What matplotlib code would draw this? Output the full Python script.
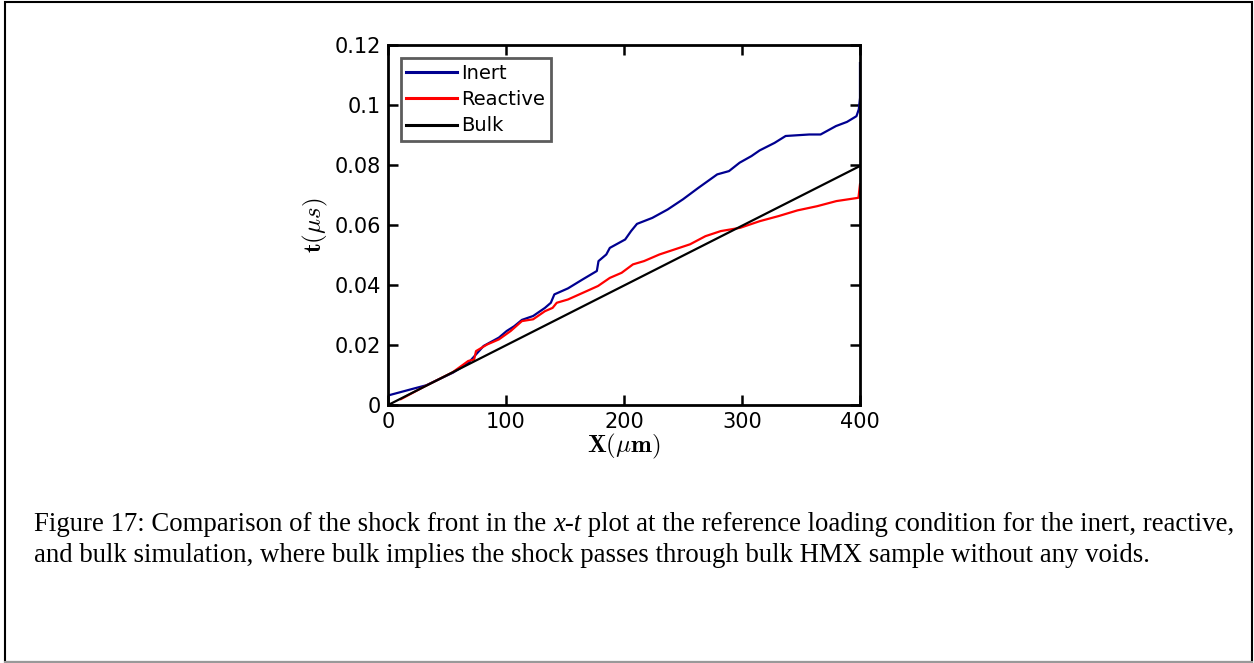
import matplotlib
matplotlib.use('Agg')
import matplotlib.pyplot as plt
from matplotlib.patches import Rectangle
from matplotlib.lines import Line2D

# shock front position (um) vs time (us)
x_inert = [0, 22.7, 32.4, 55, 68, 81, 94, 100.6, 107, 113.5, 123, 133, 138, 141,
           152.5, 165, 177, 178.4, 185, 188, 201, 206, 211, 224, 237, 250, 263,
           279, 289, 298, 308, 315, 327.6, 337, 357, 366.6, 379.6, 389, 397,
           399, 400, 400]
t_inert = [0.0032, 0.0056, 0.0066, 0.0108, 0.0140, 0.0197, 0.0225, 0.0247, 0.0263,
           0.0284, 0.0297, 0.0324, 0.0341, 0.0369, 0.0389, 0.0419, 0.0447, 0.0480,
           0.0502, 0.0524, 0.0552, 0.0580, 0.0604, 0.0624, 0.0652, 0.0686, 0.0724,
           0.0769, 0.0780, 0.0808, 0.0830, 0.0849, 0.0874, 0.0897, 0.0902, 0.0902,
           0.0930, 0.0944, 0.0963, 0.0986, 0.1024, 0.1140]

x_react = [11, 30, 55, 68, 73, 74.6, 84, 94, 104, 113.5, 123, 133, 139.5, 143,
           152.5, 165, 178, 188, 198, 207.6, 217, 230, 243, 256, 269, 282, 298.5,
           315, 331, 347, 363.7, 380, 398.7, 399.5, 400]
t_react = [0.0020, 0.0060, 0.0110, 0.0147, 0.0152, 0.0180, 0.0202, 0.0219, 0.0247,
           0.0280, 0.0286, 0.0313, 0.0324, 0.0341, 0.0352, 0.0374, 0.0397, 0.0424,
           0.0441, 0.0469, 0.0480, 0.0502, 0.0519, 0.0536, 0.0563, 0.0580, 0.0591,
           0.0613, 0.0630, 0.0649, 0.0663, 0.0680, 0.0691, 0.0719, 0.0736]

x_bulk = [0, 400]
t_bulk = [0.0, 0.0797]

xticks = [0, 100, 200, 300, 400]
yticks = [0, 0.02, 0.04, 0.06, 0.08, 0.1, 0.12]
yticklabels = ['0', '0.02', '0.04', '0.06', '0.08', '0.1', '0.12']

plt.rcParams['mathtext.fontset'] = 'cm'

fig = plt.figure(figsize=(12.54, 6.63), dpi=100)
ax = fig.add_axes([0.3094, 0.389, 0.3764, 0.543])

ax.plot(x_inert, t_inert, color='#000090', lw=1.6, label='Inert')
ax.plot(x_react, t_react, color='#ff0000', lw=1.6, label='Reactive')
ax.plot(x_bulk, t_bulk, color='black', lw=1.6, label='Bulk')

ax.set_xlim(0, 400)
ax.set_ylim(0, 0.12)
ax.set_xticks(xticks)
ax.set_xticklabels([str(v) for v in xticks])
ax.set_yticks(yticks)
ax.set_yticklabels(yticklabels)
ax.tick_params(direction='in', length=7, width=1.8, labelsize=15,
               top=True, right=True)
ax.tick_params(axis='x', pad=5)
ax.tick_params(axis='y', pad=5)
for s in ax.spines.values():
    s.set_linewidth(2)

ax.set_xlabel(r'$\mathbf{X}(\mu\mathbf{m})$', fontsize=18, labelpad=0)
ax.set_ylabel(r'$\mathbf{t}(\mu s)$', fontsize=18, labelpad=3)

leg = ax.legend(loc='upper left', fontsize=14, frameon=True, fancybox=False,
                borderaxespad=0.65, handlelength=2.6, handletextpad=0.2,
                borderpad=0.3, labelspacing=0.38)
leg.get_frame().set_edgecolor('#333333')
leg.get_frame().set_linewidth(2)
for h in leg.get_lines():
    h.set_linewidth(2.2)

# page frame
fig.add_artist(Rectangle((5 / 1254, 1 / 663), 1247 / 1254, 660 / 663,
                         transform=fig.transFigure, fill=False,
                         edgecolor='black', lw=1.5))
fig.add_artist(Line2D([5 / 1254, 1252 / 1254], [1.5 / 663, 1.5 / 663],
                      transform=fig.transFigure, color='#999999', lw=1.5))

# caption with italic x-t
fs = 19.3
y1 = 1 - 531 / 663
y2 = 1 - 562 / 663
r = fig.canvas.get_renderer()
t1 = fig.text(34 / 1254, y1, 'Figure 17: Comparison of the shock front in the ',
              family='Liberation Serif', fontsize=fs, va='baseline')
bb = t1.get_window_extent(r)
t2 = fig.text(bb.x1 / 1254, y1, 'x-t', family='Liberation Serif',
              style='italic', fontsize=fs, va='baseline')
bb = t2.get_window_extent(r)
fig.text(bb.x1 / 1254, y1,
         ' plot at the reference loading condition for the inert, reactive,',
         family='Liberation Serif', fontsize=fs, va='baseline')
fig.text(34 / 1254, y2,
         'and bulk simulation, where bulk implies the shock passes through bulk HMX sample without any voids.',
         family='Liberation Serif', fontsize=fs, va='baseline')

fig.savefig('out.png', dpi=100)
